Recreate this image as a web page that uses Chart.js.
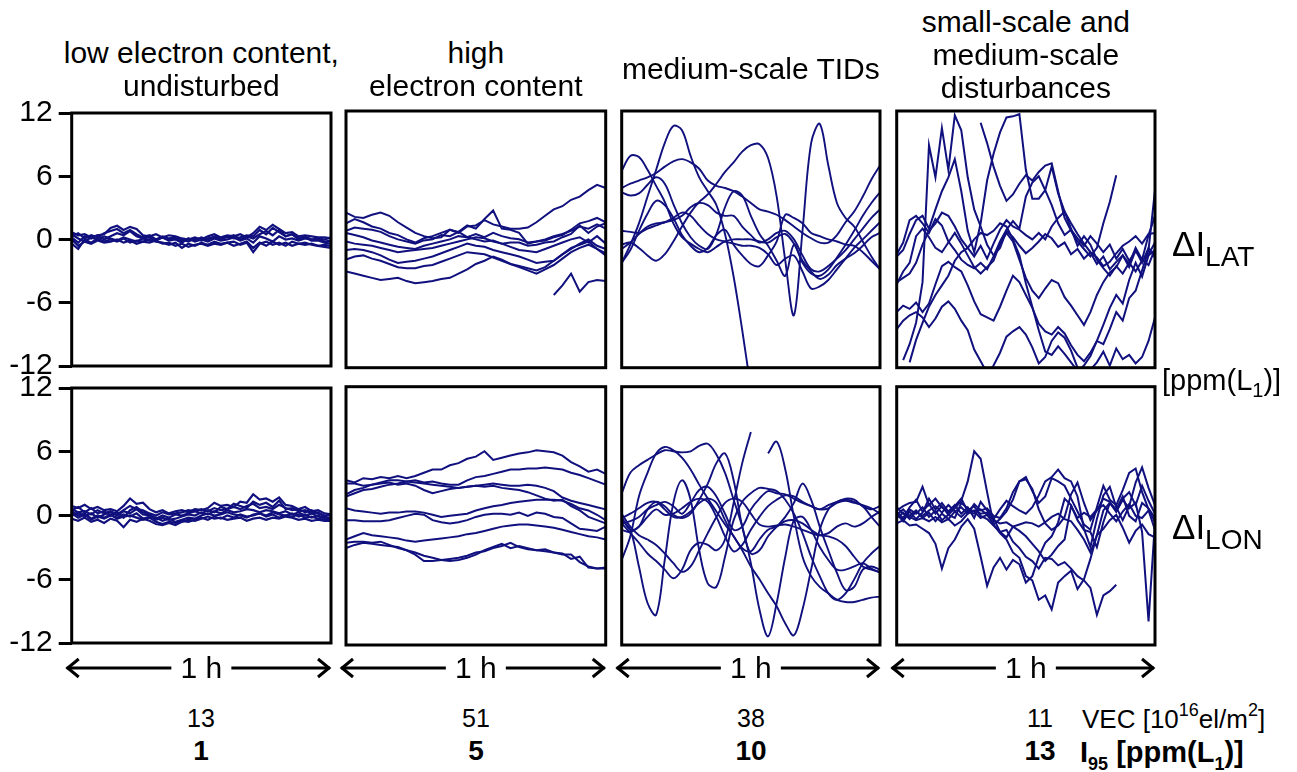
<!DOCTYPE html>
<html>
<head>
<meta charset="utf-8">
<title>Ionospheric gradients - four example hours</title>
<script src="https://cdn.jsdelivr.net/npm/chart.js@4.4.1/dist/chart.umd.min.js"></script>
<style>
  html, body { margin: 0; padding: 0; background: #fff; }
  body { position: relative; width: 1297px; height: 772px; overflow: hidden;
         font-family: "Liberation Sans", Arial, sans-serif; color: #000; }
  .panel { position: absolute; }
  .lbl { position: absolute; white-space: nowrap; line-height: 1; transform: translate(-50%, -50%); }
  .lft { transform: translate(0, -50%); }
  sub, sup { line-height: 0; }
  #arrows { position: absolute; left: 0; top: 0; }
</style>
</head>
<body>
<svg id="arrows" width="1297" height="772"></svg>
<script>
// Relative ionospheric gradients, 1 h windows, ppm(L1)
// rows: latitudinal / longitudinal, columns: four ionospheric conditions

const lineColor = '#10107e';
const yTicks = [12, 6, 0, -6, -12];
const panelTitles = [
  ['low electron content,', 'undisturbed'],
  ['high', 'electron content'],
  ['medium-scale TIDs'],
  ['small-scale and', 'medium-scale', 'disturbances']
];
const vecValues = [13, 51, 38, 11];
const i95Values = [1, 5, 10, 13];

// sample spacing in minutes for each column
const stepLow = 1.5, stepHigh = 2, stepTid = 2, stepSmall = 1.5;

// --- low electron content, undisturbed ---
const latLow = [
  [0.7,0.4,0.5,0.2,0.4,0.5,1.1,1.3,0.9,1.2,1.0,0.4,0.3,0.5,0.2,0.4,0.3,0.1,0.0,0.2,0.0,0.3,0.5,0.2,0.4,0.3,0.5,0.2,0.6,1.2,0.9,1.4,1.0,0.6,0.7,0.3,0.4,0.3,0.2,0.2,0.1],
  [0.2,-0.3,0.3,0.1,0.4,0.0,0.3,0.6,0.4,0.8,0.3,0.1,0.2,-0.1,0.2,0.0,0.1,-0.2,0.1,-0.1,0.2,0.0,0.3,0.1,0.2,0.4,0.0,0.3,0.1,0.5,0.8,0.4,0.9,0.3,0.5,0.1,0.3,0.0,0.0,-0.2,-0.1],
  [-0.4,-0.9,0.0,-0.3,0.1,-0.2,0.0,-0.2,0.1,-0.3,-0.1,-0.2,0.0,-0.2,-0.3,-0.5,-0.3,-0.8,-0.4,-0.6,-0.3,-0.5,-0.2,-0.4,-0.3,-0.2,-0.5,-0.3,-1.2,-0.4,-0.2,-0.5,-0.3,-0.6,-0.2,-0.4,-0.3,-0.5,-0.6,-0.7,-0.8],
  [0.5,0.1,-0.2,0.2,0.0,0.3,0.1,-0.1,0.2,0.0,-0.2,0.1,-0.1,0.0,0.2,-0.1,0.0,-0.3,0.1,-0.2,0.0,-0.2,0.1,-0.1,0.0,0.2,-0.1,0.1,-0.3,0.3,0.1,-0.2,0.3,0.0,0.1,-0.1,0.1,0.0,0.1,0.0,0.2],
  [0.0,-0.6,-0.2,-0.4,-0.1,-0.3,-0.2,0.0,-0.3,-0.1,-0.4,-0.2,-0.3,-0.1,-0.4,-0.3,-0.6,-0.4,-0.7,-0.5,-0.4,-0.6,-0.4,-0.5,-0.3,-0.6,-0.4,-0.2,-0.8,-0.3,-0.6,-0.2,-0.5,-0.3,-0.6,-0.4,-0.5,-0.4,-0.6,-0.5,-0.6],
  [0.3,0.6,0.1,0.4,0.2,0.6,0.8,1.0,0.6,0.9,0.5,0.2,0.4,0.0,0.3,0.1,0.2,0.0,-0.2,0.1,-0.1,0.1,0.2,0.0,0.3,0.1,0.2,0.4,0.3,0.9,0.5,1.1,0.7,0.3,0.5,0.0,0.2,-0.1,-0.1,-0.3,-0.4]
];
const lonLow = [
  [0.9,0.7,1.0,0.6,0.8,0.5,0.6,0.4,0.9,1.6,1.1,1.2,0.6,0.3,0.5,0.2,0.4,0.5,0.3,0.6,0.5,0.7,1.2,0.9,1.0,0.8,1.3,1.2,2.0,1.5,1.6,1.3,1.7,1.0,0.9,0.6,0.8,0.4,0.5,0.2,0.1],
  [0.6,0.3,0.4,0.1,0.5,0.2,0.4,0.1,0.5,0.9,0.6,0.5,0.2,0.0,0.3,0.1,0.2,0.3,0.5,0.4,0.6,0.4,0.7,0.5,0.6,0.8,0.6,0.9,1.1,0.7,0.8,0.6,1.0,0.7,0.5,0.6,0.3,0.5,0.2,0.0,0.0],
  [0.2,-0.2,0.1,-0.4,-0.1,-0.3,0.0,-0.2,0.1,-0.1,0.2,-0.3,-0.1,-0.2,-0.5,-0.3,-0.6,-0.4,-0.2,-0.3,0.0,0.2,0.0,0.1,0.3,0.1,0.0,-0.2,0.1,0.2,0.0,0.3,0.1,0.0,0.2,-0.1,0.1,-0.2,0.0,-0.3,-0.2],
  [-0.3,-0.5,-0.2,-0.6,-0.4,-0.7,-0.3,-0.5,-1.1,-0.4,-0.6,-0.3,-0.5,-0.8,-0.9,-0.7,-0.9,-0.6,-0.4,-0.5,-0.3,-0.1,-0.3,-0.2,-0.4,-0.3,-0.2,-0.5,-0.3,-0.2,-0.4,-0.2,-0.3,-0.1,-0.2,-0.4,-0.3,-0.5,-0.4,-0.5,-0.5],
  [0.0,0.3,-0.1,0.2,-0.2,0.1,0.3,0.0,0.4,0.2,0.6,0.1,0.0,-0.4,-0.2,-0.4,-0.3,-0.1,0.1,0.0,0.3,0.1,0.4,0.2,0.5,0.3,0.4,0.6,0.5,0.3,0.5,0.4,0.2,0.4,0.1,0.3,0.0,0.2,-0.1,-0.2,-0.3],
  [0.4,0.0,0.2,-0.3,0.0,-0.2,0.1,-0.3,-0.1,0.0,-0.2,-0.4,-0.2,-0.6,-0.8,-0.6,-0.7,-0.5,-0.6,-0.4,-0.2,-0.4,-0.1,-0.3,0.0,-0.2,0.1,-0.1,0.0,0.2,-0.1,0.1,-0.2,0.0,-0.1,0.1,-0.2,-0.1,-0.3,-0.4,-0.4],
  [0.5,0.8,0.3,0.7,0.2,0.4,0.0,0.3,-0.2,0.5,0.8,0.3,0.1,-0.3,0.0,-0.2,0.1,0.0,0.2,0.4,0.2,0.5,0.3,0.8,0.6,1.1,0.9,0.7,1.3,1.0,1.2,0.8,1.4,0.6,0.7,0.4,0.5,0.2,0.3,-0.1,0.1]
];

// --- high electron content ---
const latHigh = [
  [2.5,2.1,2.0,2.3,2.5,2.2,1.6,1.1,0.6,0.3,0.1,0.2,0.9,0.6,1.2,1.3,1.8,1.4,1.2,1.0,1.0,1.1,1.6,2.2,2.8,3.1,3.7,4.0,4.6,5.1,4.8],
  [1.5,1.9,1.6,1.2,1.0,0.6,0.4,0.0,-0.3,0.1,0.3,0.6,0.9,0.7,1.3,1.0,1.9,2.7,1.0,0.9,0.6,-0.4,-0.2,-0.1,0.2,0.4,0.9,1.5,1.7,2.0,1.6],
  [0.8,1.1,1.0,0.9,0.7,0.3,0.0,-0.2,-0.4,-0.1,0.0,0.4,0.3,0.7,0.2,0.5,0.2,0.6,0.3,0.1,0.0,-0.3,-0.2,0.0,0.3,0.5,0.8,1.2,1.0,1.4,1.0],
  [0.6,0.4,0.2,-0.1,-0.3,-0.5,-0.7,-0.8,-0.9,-0.6,-0.4,-0.2,0.0,0.3,0.2,0.0,-0.2,-0.1,-0.4,-0.3,-0.3,-0.6,-0.5,-0.3,-0.2,0.2,0.5,1.3,0.6,1.2,1.5],
  [-0.2,-0.4,-0.5,-0.6,-0.8,-1.0,-1.2,-1.1,-1.0,-0.9,-0.8,-0.6,-0.4,-0.2,0.0,0.2,0.1,-0.2,-0.4,-0.7,-1.0,-1.1,-1.2,-0.9,-0.6,-0.3,0.0,0.2,-0.3,0.3,-0.4],
  [-1.0,-0.9,-1.0,-1.2,-1.5,-1.9,-2.2,-2.1,-2.0,-1.8,-1.6,-1.3,-1.0,-0.7,-0.4,-0.6,-0.7,-1.0,-1.2,-1.4,-1.6,-1.9,-2.2,-2.1,-2.0,-1.4,-0.8,-0.5,-0.2,-0.9,-1.5],
  [-1.9,-1.6,-1.5,-1.8,-2.0,-2.3,-2.6,-2.7,-2.7,-2.5,-2.4,-2.1,-1.8,-1.5,-1.2,-1.3,-1.4,-1.7,-2.0,-2.3,-2.6,-2.9,-3.2,-2.8,-2.4,-1.8,-1.2,-0.8,-0.5,-0.9,-1.3],
  [-3.0,-3.2,-3.4,-3.6,-3.8,-3.7,-3.6,-3.9,-4.1,-4.0,-3.9,-3.7,-3.6,-3.2,-2.8,-2.3,-2.0,-1.6,-1.9,-2.3,-2.5,-2.7,-2.9,-2.6,-2.0,-1.4,-0.9,-0.4,0.0,-0.6,-0.9],
  [null,null,null,null,null,null,null,null,null,null,null,null,null,null,null,null,null,null,null,null,null,null,null,null,-5.2,-4.3,-3.2,-4.9,-4.0,-3.8,-3.9]
];
const lonHigh = [
  [3.3,3.1,3.5,3.4,3.6,3.5,3.7,3.5,3.7,4.0,4.3,4.3,4.7,4.9,5.3,5.5,6.0,5.2,5.4,5.6,5.8,5.9,6.1,6.0,5.9,5.6,5.0,4.6,4.1,4.3,3.9],
  [2.0,2.4,2.6,2.9,3.1,3.3,3.3,3.2,3.3,3.1,3.2,3.0,2.9,2.9,3.3,3.6,3.7,3.9,4.1,4.3,4.3,4.4,4.4,4.5,4.4,4.3,4.0,3.8,3.5,3.2,2.9],
  [3.0,3.0,2.8,2.9,3.0,3.1,2.9,3.0,2.8,2.4,2.1,2.3,2.5,2.6,2.7,2.8,2.9,3.0,2.9,2.8,2.8,2.9,2.8,2.6,2.3,1.7,1.4,1.2,1.0,0.8,0.6],
  [1.8,2.1,2.4,2.5,2.7,2.9,3.0,3.2,3.1,3.0,2.9,2.8,2.7,2.6,2.7,2.8,2.7,2.8,2.6,2.5,2.4,2.2,1.9,1.6,1.4,1.5,0.9,0.5,-0.1,-0.4,-0.7],
  [0.7,0.5,0.4,0.3,0.2,0.3,0.3,0.4,0.4,0.3,0.1,-0.1,0.0,0.1,0.2,0.5,0.7,0.9,1.0,1.2,1.3,1.4,1.5,1.5,1.5,1.4,1.1,0.7,0.5,0.1,-0.4],
  [-0.4,-0.4,-0.5,-0.5,-0.5,-0.4,-0.2,0.0,0.2,0.1,-0.4,-0.6,-0.7,-0.6,-0.4,-0.1,0.1,0.2,0.2,0.1,0.3,0.0,0.3,0.2,-0.1,-0.2,-0.7,-1.2,-1.3,-1.4,-1.0],
  [-2.2,-1.9,-1.6,-1.8,-1.9,-2.0,-2.1,-2.3,-2.4,-2.3,-2.2,-2.1,-2.0,-1.9,-1.7,-1.6,-1.4,-1.2,-1.0,-0.9,-0.8,-0.8,-0.9,-1.0,-1.1,-1.3,-1.5,-1.7,-1.9,-2.0,-2.2],
  [-2.5,-2.4,-2.4,-2.5,-2.4,-2.7,-3.0,-3.2,-3.4,-3.7,-3.9,-4.1,-4.2,-4.1,-3.9,-3.6,-3.2,-2.9,-2.6,-3.0,-2.8,-3.0,-3.2,-3.3,-3.4,-3.5,-4.0,-3.8,-4.8,-4.9,-4.9],
  [-3.0,-2.7,-2.5,-2.6,-2.7,-2.8,-2.9,-3.2,-3.6,-4.2,-4.2,-4.1,-4.0,-3.9,-3.7,-3.4,-3.3,-3.0,-2.8,-2.5,-2.9,-3.1,-3.2,-3.1,-3.4,-3.6,-3.6,-4.3,-4.7,-4.9,-4.8]
];

// --- medium-scale TIDs ---
const latTid = [
  [-2.2,-0.5,1.5,4.0,6.5,9.0,10.6,10.2,7.8,5.8,4.5,3.2,0.5,-3.5,-8.5,-14.0,null,null,null,null,null,null,null,null,null,null,null,null,null,null,null],
  [-0.5,-0.3,-0.8,-1.5,-2.0,-1.4,-0.2,1.2,2.5,3.5,4.2,5.2,6.3,7.2,8.2,8.8,8.9,7.6,4.0,-2.0,-7.1,0.8,9.0,10.8,6.9,3.4,2.0,1.2,-0.2,-1.6,-2.8],
  [6.4,7.8,7.7,6.5,5.0,3.5,1.5,0.2,-0.4,-0.9,-1.2,-0.7,-0.2,0.0,0.0,0.0,-0.2,-0.3,0.2,0.5,-0.4,-2.0,-3.0,-3.7,-3.3,-2.4,-1.8,-1.3,-0.6,0.2,0.6],
  [4.8,5.2,5.5,5.8,6.2,6.8,7.3,7.5,7.2,6.6,5.5,5.0,4.8,4.5,4.0,3.4,2.8,2.6,2.3,1.8,1.2,0.6,0.1,-0.3,-0.3,0.4,1.6,2.6,4.0,5.6,6.9],
  [4.4,4.1,4.3,5.1,5.8,5.2,3.3,1.5,0.2,-0.6,-0.9,0.5,3.0,4.5,4.1,2.2,0.5,-0.6,-2.0,-3.4,-0.5,-2.2,-3.2,-3.4,-2.8,-1.7,-0.5,0.8,2.2,3.4,4.4],
  [0.8,0.7,0.6,1.0,1.3,1.6,1.8,2.2,3.0,3.4,3.2,2.5,2.2,2.2,1.2,0.4,-0.3,0.0,0.6,0.8,0.0,-1.5,-2.8,-3.0,-2.5,-1.8,-1.0,0.0,1.0,2.0,2.8],
  [-0.9,-0.3,0.5,1.2,1.5,1.6,2.0,2.5,2.2,1.3,0.5,0.0,-0.2,-0.4,-0.6,-0.6,-0.8,-1.4,-2.4,-1.8,-1.5,-3.0,-4.6,-4.4,-3.8,-2.8,-1.8,-0.8,0.0,0.8,1.6],
  [-2.2,-1.0,0.8,2.4,3.6,3.2,2.0,0.4,-0.6,-1.2,-0.8,0.4,0.9,-0.5,-1.5,-2.3,-2.5,-1.5,-0.2,2.3,2.0,1.5,0.6,0.3,0.0,-0.2,-0.5,-0.6,-1.2,-2.0,-2.8]
];
const lonTid = [
  [2.1,4.0,4.7,5.2,5.7,6.1,6.0,5.9,6.0,6.5,6.7,5.7,4.0,1.5,-1.0,-4.4,-8.7,-11.2,-8.1,-3.8,-0.4,-0.1,-1.3,-2.9,-4.1,-5.0,-5.0,-4.7,-4.4,-4.9,-5.3],
  [-4.1,-1.9,1.8,4.0,5.8,6.4,6.1,5.4,4.3,2.9,1.6,0.4,-0.8,-1.9,-3.2,-4.7,-5.9,-7.2,-8.4,-10.0,-11.1,-8.7,-5.0,-1.3,0.6,1.3,1.5,1.3,0.9,-0.1,-1.0],
  [-0.4,-1.3,-4.7,-8.1,-9.2,-4.1,1.2,3.3,1.5,-3.2,-6.3,-6.6,-3.8,-0.4,1.3,2.1,2.6,2.5,2.3,1.5,0.2,-1.6,-3.8,-5.6,-7.2,-7.8,-7.2,-5.9,-4.4,-3.5,-2.8],
  [null,null,null,null,null,null,null,null,null,null,null,null,null,null,null,null,null,5.8,6.9,4.3,-0.1,-3.8,-5.6,-6.6,-7.2,-7.8,-8.0,-8.0,-7.8,-7.6,-7.5],
  [-0.7,-1.6,-2.5,-3.5,-4.2,-5.0,-5.8,-5.0,-3.2,-2.5,-2.7,-3.2,-2.2,1.2,4.9,7.8,null,null,null,null,null,null,null,null,null,null,null,null,null,null,null],
  [-0.1,-1.3,-1.0,0.6,1.3,0.9,0.1,-0.2,0.2,1.5,3.0,4.9,5.8,3.3,-1.0,-3.5,-3.2,-1.9,-1.0,-0.1,1.2,3.0,1.5,-1.0,-3.2,-5.3,-6.9,-6.6,-5.0,-4.7,-5.0],
  [-0.2,0.2,0.7,1.2,1.3,0.6,-0.1,-0.1,0.4,1.2,1.6,1.2,-0.4,-1.9,-3.0,-3.3,-2.2,-1.3,-1.0,-0.5,-0.4,-0.7,-1.3,-1.8,-1.9,-2.2,-2.8,-3.8,-4.7,-5.0,-5.2],
  [-1.3,-1.5,-1.0,-0.1,0.6,0.1,0.2,0.7,1.3,1.6,1.3,-0.1,-1.9,-3.3,-2.7,-1.3,-0.1,0.9,1.5,1.9,1.8,1.3,0.9,0.6,0.7,1.2,1.4,1.2,1.0,0.7,0.2],
  [0.2,-1.0,-1.8,-2.2,-2.7,-3.5,-4.4,-5.2,-4.7,-3.2,-1.6,-0.1,1.2,1.6,1.3,0.2,-0.8,-1.0,-0.9,-0.8,-1.0,-1.3,-1.6,-1.8,-1.6,-1.0,-0.7,-1.0,-0.7,-0.1,0.4],
  [-0.7,-0.5,-0.1,0.6,1.0,1.3,0.9,0.2,1.2,2.4,2.7,1.8,0.2,-1.3,-1.0,0.6,1.6,2.3,2.1,2.0,1.6,1.2,0.9,0.6,1.0,1.3,1.6,1.5,0.9,0.6,0.9]
];

// --- small-scale and medium-scale disturbances ---
const latSmall = [
  [null,-11.3,-9.8,-7.8,-4.0,8.8,5.8,10.4,6.5,11.6,10.2,5.8,2.8,1.2,-0.5,-1.5,-0.8,0.8,0.2,-0.6,-1.3,-0.8,-0.2,0.5,0.1,-0.7,-0.3,-1.4,-0.9,-1.8,-1.2,-2.3,-1.6,-2.8,-2.1,-1.5,-2.6,-1.0,-2.2,-0.8,-1.7],
  [null,null,null,null,null,null,null,null,null,null,null,null,null,10.9,9.0,6.8,5.0,3.6,4.2,5.2,6.0,5.5,6.3,6.9,7.1,4.5,2.0,0.8,-0.2,-0.9,-1.6,-0.8,1.5,3.5,6.0,null,null,null,null,null,null],
  [-1.6,-1.0,0.5,1.8,2.2,1.0,2.8,4.5,5.8,7.5,4.5,0.8,-1.2,1.5,5.5,8.0,10.0,11.4,11.5,11.7,6.5,3.8,3.8,4.6,3.2,1.5,0.4,0.9,0.1,-0.6,0.3,-0.4,-1.2,-0.5,-1.8,-0.9,-2.0,-1.1,-1.9,-2.4,-0.9],
  [-4.0,-3.6,-3.2,-2.2,-0.5,0.8,1.5,2.5,2.2,1.2,0.0,-0.8,-1.6,-0.6,-1.8,-0.4,0.9,1.8,1.2,0.9,0.4,0.0,0.6,0.0,1.2,2.0,2.6,1.5,0.5,-0.4,-1.2,-1.7,-2.5,-2.1,-1.3,-0.6,-0.2,0.3,-0.4,0.5,0.6],
  [-6.8,-6.2,-6.5,-5.9,-6.8,-6.0,-4.2,-2.5,-2.1,-2.6,-3.0,-4.3,-5.8,-7.0,-7.3,-7.6,-6.3,-4.8,-3.4,-4.0,-5.2,-6.4,-7.9,-8.6,-8.9,-8.2,-8.8,-9.9,-10.8,-11.4,-10.6,-9.5,-9.8,-8.4,-6.8,-7.6,-5.5,-4.8,-2.9,-1.0,4.6],
  [-8.4,-7.6,-7.1,-6.8,-7.3,-8.2,-7.4,-6.3,-5.8,-6.5,-7.6,-8.5,-10.3,-11.4,-12.5,-11.8,-10.6,-9.1,-8.6,-8.2,-8.9,-10.1,-11.6,-11.0,-9.5,-8.7,-9.2,-10.4,-12.0,-12.3,-12.2,-11.5,-10.5,-11.8,-10.2,-11.2,-10.8,-11.6,-11.0,-9.5,-7.3],
  [null,null,-11.5,-9.4,-7.8,-6.3,-5.2,-4.3,-3.4,-2.0,-1.2,-0.8,0.0,0.6,0.4,0.8,1.5,1.2,0.0,-1.5,-4.1,-6.3,-8.5,-10.5,-10.8,-10.0,-10.7,-11.5,-12.3,-11.8,-10.9,-9.5,-8.0,-6.4,-5.2,-6.0,-3.8,-2.2,-3.5,-1.5,-1.0],
  [-1.4,-0.3,1.8,2.2,1.5,0.6,1.9,1.3,-0.2,-1.0,-1.9,-2.4,-2.7,-2.2,-2.8,-1.6,-0.2,0.9,1.7,1.0,4.0,5.3,5.9,4.6,6.8,4.3,2.6,1.0,-0.6,0.3,-0.5,-1.9,-2.7,-3.4,-2.5,-3.2,-2.2,-3.0,-2.0,-1.4,-0.3],
  [-4.2,-3.0,-2.2,0.3,1.0,0.2,-0.8,-1.2,-0.3,0.6,-0.4,-1.5,-2.6,-3.2,-2.6,-2.0,-0.4,0.6,-0.2,-1.9,-3.6,-4.8,-5.5,-4.6,-3.8,-4.1,-5.4,-6.2,-7.1,-8.0,-6.8,-5.2,-4.0,-3.1,-2.6,-1.5,-2.3,-0.8,-1.9,0.4,2.2]
];
const lonSmall = [
  [0.3,-0.2,0.8,1.5,0.4,1.1,0.2,0.9,0.1,0.7,1.4,3.2,6.0,5.3,2.2,-0.8,-0.3,0.4,1.5,3.2,3.6,2.3,1.2,1.8,3.5,3.2,2.8,1.6,0.4,-0.8,-1.3,0.8,2.8,1.5,1.0,2.4,4.0,4.4,2.2,0.6,-0.6],
  [0.5,0.9,1.2,1.3,2.7,1.0,1.6,0.8,0.3,0.9,1.6,0.4,0.2,0.6,0.1,-0.8,-1.6,-2.2,-3.4,-3.9,-5.6,-6.0,-7.8,-7.4,-8.7,-6.2,-5.6,-5.1,-6.8,-5.9,-4.0,-1.8,0.5,1.2,0.4,1.6,2.2,1.0,2.8,1.4,0.2],
  [-0.7,-0.4,-0.9,-0.8,-1.2,-1.6,-2.6,-4.9,-3.0,-2.2,-1.0,-0.3,-1.2,-3.8,-6.5,-4.8,-3.9,-5.0,-4.1,-4.5,-6.2,-5.6,-3.8,-2.5,-1.9,-0.6,1.6,1.0,-0.4,-1.3,-1.5,-2.9,-0.6,1.2,0.6,1.8,0.0,-0.5,1.2,0.7,-0.2],
  [0.1,0.6,0.0,0.5,-0.2,0.3,-0.5,0.2,-0.3,0.4,-0.1,0.5,0.9,0.0,-0.3,-0.9,-1.5,-1.3,-2.4,-3.0,-3.8,-4.2,-4.9,-3.9,-4.0,-4.6,-4.3,-4.9,-5.6,-6.0,-6.7,-9.2,-7.4,-7.0,-6.4,null,null,null,null,null,null],
  [-0.2,0.3,-0.3,0.4,0.0,0.5,0.9,0.3,1.0,0.4,0.8,0.2,1.1,0.5,0.7,0.0,-0.2,0.7,2.2,3.2,3.4,2.5,0.6,-0.7,-1.3,-0.9,-0.1,2.0,3.1,1.2,-0.4,0.5,1.6,1.3,0.4,1.5,0.7,1.2,-1.5,-9.8,-0.5],
  [0.4,-0.3,0.6,0.2,0.8,-0.1,0.5,-0.4,0.1,-0.2,1.2,0.7,0.4,-0.2,0.1,-0.4,-0.7,-0.6,-1.0,-1.4,-1.9,-2.6,-3.3,-4.2,-3.6,-2.8,-2.2,0.9,-0.2,0.3,-0.1,0.6,1.0,0.2,-0.5,0.4,1.1,0.0,-0.2,0.5,-1.3],
  [0.8,0.2,-0.1,-0.4,-0.2,-0.5,-0.1,-0.6,-0.3,-0.9,-0.5,0.2,0.5,0.2,0.3,-0.2,-1.5,-2.0,-1.0,-0.8,-0.6,-0.7,-1.0,-0.6,-0.1,0.2,-0.3,-0.5,-1.3,-2.2,-3.4,-1.8,-1.2,-0.4,0.1,-1.1,-2.5,-1.4,-0.8,-1.7,-2.0],
  [0.2,-0.5,0.4,-0.3,0.3,1.6,0.6,1.2,0.4,1.0,0.2,0.8,-0.2,1.3,0.5,-0.3,0.6,1.4,0.9,0.5,0.2,0.8,1.9,3.2,3.6,4.3,3.5,3.2,1.8,-1.2,-2.9,-0.3,1.9,2.7,0.8,-0.4,0.9,3.1,4.5,2.6,1.0]
];

// page layout (pixels)
const colBox = [[71.7, 331], [346, 605.7], [621.7, 880], [896.7, 1155]];
const rowBox = [[111, 367.7], [386.7, 645]];
const fontFamily = '"Liberation Sans", Arial, sans-serif';

const boxBorder = {
  id: 'boxBorder',
  afterDatasetsDraw(chart) {
    const { ctx, chartArea: a } = chart;
    ctx.save();
    ctx.strokeStyle = '#000';
    ctx.lineWidth = 3;
    ctx.strokeRect(a.left, a.top, a.right - a.left, a.bottom - a.top);
    ctx.restore();
  }
};

function makePanel(row, col, lines, step, tension, width) {
  const [L, R] = colBox[col];
  const [T, B] = rowBox[row];
  const pad = 22;
  const first = col === 0;
  const left = first ? 0 : Math.floor(L - pad);
  const top = Math.floor(T - pad);
  const w = Math.ceil(R + pad) - left;
  const h = Math.ceil(B + pad) - top;

  const div = document.createElement('div');
  div.className = 'panel';
  div.style.left = left + 'px';
  div.style.top = top + 'px';
  const cv = document.createElement('canvas');
  cv.width = w; cv.height = h;
  cv.style.width = w + 'px'; cv.style.height = h + 'px';
  div.appendChild(cv);
  document.body.appendChild(div);

  const datasets = lines.map(vals => ({
    data: vals.map((v, i) => ({ x: i * step, y: v })),
    borderColor: lineColor,
    borderWidth: width,
    pointRadius: 0,
    tension: tension,
    fill: false,
    spanGaps: false
  }));

  const yScale = {
    min: -12, max: 12,
    display: first,
    ticks: {
      stepSize: 6,
      color: '#000',
      padding: 6,
      font: { family: fontFamily, size: 30 },
      callback: (v) => yTicks.includes(v) ? String(v) : ''
    },
    grid: { drawOnChartArea: false, drawTicks: true, tickLength: 13, color: '#000', lineWidth: 3 },
    border: { display: false }
  };
  if (first) yScale.afterFit = (s) => { s.width = L; };

  new Chart(cv, {
    type: 'line',
    data: { datasets },
    options: {
      animation: false,
      responsive: false,
      devicePixelRatio: 1,
      events: [],
      layout: {
        padding: {
          left: first ? 0 : L - left,
          right: left + w - R,
          top: T - top,
          bottom: top + h - B
        }
      },
      plugins: { legend: { display: false }, tooltip: { enabled: false } },
      scales: {
        x: { type: 'linear', min: 0, max: 60, display: false },
        y: yScale
      }
    },
    plugins: [boxBorder]
  });
}

makePanel(0, 0, latLow, stepLow, 0, 2.2);
makePanel(0, 1, latHigh, stepHigh, 0, 2);
makePanel(0, 2, latTid, stepTid, 0.35, 1.9);
makePanel(0, 3, latSmall, stepSmall, 0, 2);
makePanel(1, 0, lonLow, stepLow, 0, 2.2);
makePanel(1, 1, lonHigh, stepHigh, 0, 2);
makePanel(1, 2, lonTid, stepTid, 0.35, 1.9);
makePanel(1, 3, lonSmall, stepSmall, 0, 2);

// text labels
function label(html, x, y, css, leftAlign) {
  const d = document.createElement('div');
  d.className = 'lbl' + (leftAlign ? ' lft' : '');
  d.innerHTML = html;
  d.style.left = x + 'px';
  d.style.top = y + 'px';
  Object.assign(d.style, css || {});
  document.body.appendChild(d);
}

const titleRows = [[53, 86], [53, 86], [69], [22, 55, 88]];
panelTitles.forEach((lines, c) => {
  const cx = (colBox[c][0] + colBox[c][1]) / 2;
  lines.forEach((t, k) => label(t, cx, titleRows[c][k], { fontSize: '30px' }));
});

label('&Delta;I<sub style="font-size:28px;vertical-align:-10px">LAT</sub>', 1172, 243, { fontSize: '35px' }, true);
label('[ppm(L<sub style="font-size:20px;vertical-align:-7px">1</sub>)]', 1162, 380, { fontSize: '29px' }, true);
label('&Delta;I<sub style="font-size:28px;vertical-align:-10px">LON</sub>', 1172, 526, { fontSize: '35px' }, true);

// 1 h arrows
const svg = document.getElementById('arrows');
const NS = 'http://www.w3.org/2000/svg';
function svgEl(tag, attrs) {
  const e = document.createElementNS(NS, tag);
  for (const k in attrs) e.setAttribute(k, attrs[k]);
  svg.appendChild(e);
}
const arrowY = 668;
colBox.forEach(([L, R], c) => {
  const cx = (L + R) / 2;
  const a = L - 5, b = R - 1;
  const st = { stroke: '#000', 'stroke-width': 3, fill: 'none' };
  svgEl('line', Object.assign({ x1: a, y1: arrowY, x2: cx - 30, y2: arrowY }, st));
  svgEl('line', Object.assign({ x1: cx + 30, y1: arrowY, x2: b, y2: arrowY }, st));
  svgEl('polyline', Object.assign({ points: `${a + 12},${arrowY - 9} ${a + 1},${arrowY} ${a + 12},${arrowY + 9}` }, st));
  svgEl('polyline', Object.assign({ points: `${b - 12},${arrowY - 9} ${b - 1},${arrowY} ${b - 12},${arrowY + 9}` }, st));
  label('1 h', cx, arrowY, { fontSize: '30px' });
});

// VEC and I95 values
const valueX = [201, 476, 751, 1040];
vecValues.forEach((v, c) => label(String(v), valueX[c], 718, { fontSize: '25px' }));
i95Values.forEach((v, c) => label(String(v), valueX[c], 751, { fontSize: '28px', fontWeight: 'bold' }));
label('VEC [10<sup style="font-size:18px;vertical-align:12px">16</sup>el/m<sup style="font-size:18px;vertical-align:12px">2</sup>]', 1082, 719, { fontSize: '26px' }, true);
label('I<sub style="font-size:18px;vertical-align:-8px">95</sub> [ppm(L<sub style="font-size:18px;vertical-align:-8px">1</sub>)]', 1080, 752, { fontSize: '29px', fontWeight: 'bold' }, true);
</script>
</body>
</html>
